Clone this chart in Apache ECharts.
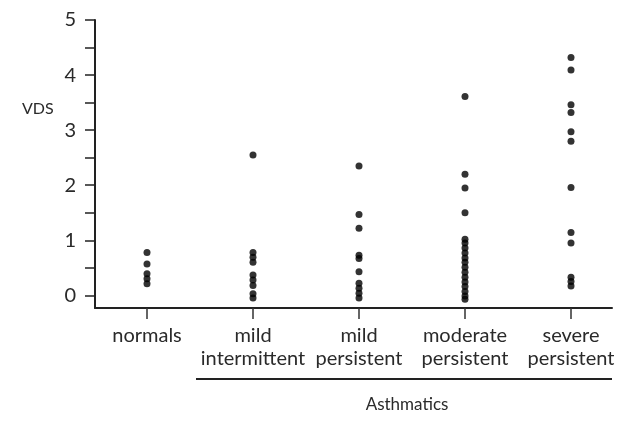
<!DOCTYPE html>
<html>
<head>
<meta charset="utf-8">
<script src="https://cdn.jsdelivr.net/npm/echarts@6/dist/echarts.min.js"></script>
<style>
  html, body { margin: 0; padding: 0; background: #fff; }
  #chart { width: 629px; height: 422px; }
</style>
</head>
<body>
<div id="chart"></div>
<script>
// ---- data ----
const categories = ["normals", "mild\nintermittent", "mild\npersistent", "moderate\npersistent", "severe\npersistent"];
const normals = [0.78, 0.57, 0.39, 0.30, 0.21];
const mildIntermittent = [2.55, 0.78, 0.69, 0.60, 0.37, 0.28, 0.18, 0.03, -0.05];
const mildPersistent = [2.35, 1.47, 1.22, 0.73, 0.67, 0.43, 0.22, 0.13, 0.04, -0.05];
const moderatePersistent = [3.61, 2.20, 1.95, 1.50, 1.02, 0.95, 0.86, 0.77, 0.68, 0.60, 0.51, 0.42, 0.33, 0.24, 0.16, 0.07, -0.01, -0.07];
const severePersistent = [4.32, 4.09, 3.46, 3.32, 2.97, 2.80, 1.96, 1.14, 0.95, 0.33, 0.25, 0.17];
const yTickLabels = [0, 1, 2, 3, 4, 5];
const yMinorTicks = [0, 0.5, 1, 1.5, 2, 2.5, 3, 3.5, 4, 4.5, 5];
const yAxisName = "VDS";
const groupLabel = "Asthmatics";

const groups = [normals, mildIntermittent, mildPersistent, moderatePersistent, severePersistent];
const points = [];
groups.forEach((vals, i) => vals.forEach(v => points.push([categories[i], v])));

const FONT = "Lato";
const TXT = "#2a2a2a";
const LINE = "#222";
const YMIN = -0.23, YMAX = 5;

const chart = echarts.init(document.getElementById("chart"), null, { renderer: "canvas" });
chart.setOption({
  animation: false,
  backgroundColor: "#fff",
  grid: [
    { left: 95, right: 17, top: 20, bottom: 114 },
    { left: 94, right: 5, top: 20, bottom: 114 }
  ],
  xAxis: [
    {
      gridIndex: 0, type: "value", min: 0, max: 1,
      axisLine: { show: true, onZero: false, lineStyle: { color: LINE, width: 2 } },
      axisTick: { show: false }, axisLabel: { show: false }, splitLine: { show: false }
    },
    {
      gridIndex: 1, type: "category", data: categories, boundaryGap: true,
      axisLine: { show: true, onZero: false, lineStyle: { color: "rgba(0,0,0,0)", width: 0 } },
      axisTick: { show: true, alignWithLabel: true, inside: false, length: 11, lineStyle: { color: "#333", width: 1.5 } },
      axisLabel: { color: TXT, fontFamily: FONT, fontSize: 20, lineHeight: 23, margin: 16, interval: 0 },
      splitLine: { show: false }
    }
  ],
  yAxis: [
    {
      gridIndex: 0, type: "value", min: YMIN, max: YMAX,
      axisLine: { show: true, onZero: false, lineStyle: { color: LINE, width: 2 } },
      axisTick: { show: true, length: 10, customValues: yMinorTicks, lineStyle: { color: LINE, width: 1.5 } },
      axisLabel: { show: true, customValues: yTickLabels, color: TXT, fontFamily: FONT, fontSize: 20, margin: 19 },
      splitLine: { show: false }
    },
    {
      gridIndex: 1, type: "value", min: YMIN, max: YMAX, show: false,
      splitLine: { show: false }
    }
  ],
  graphic: [
    { type: "text", left: 22, top: 101, style: { text: yAxisName, fill: TXT, font: "16px " + FONT } },
    { type: "line", shape: { x1: 196, y1: 379, x2: 612, y2: 379 }, style: { stroke: LINE, lineWidth: 2 } },
    { type: "text", x: 407, y: 405, style: { text: groupLabel, fill: TXT, font: "17px " + FONT, textAlign: "center", textVerticalAlign: "middle" } }
  ],
  series: [
    {
      type: "scatter", xAxisIndex: 1, yAxisIndex: 1, data: points,
      symbol: "circle", symbolSize: 7, clip: false,
      itemStyle: { color: "#000" }
    }
  ]
});
</script>
</body>
</html>
